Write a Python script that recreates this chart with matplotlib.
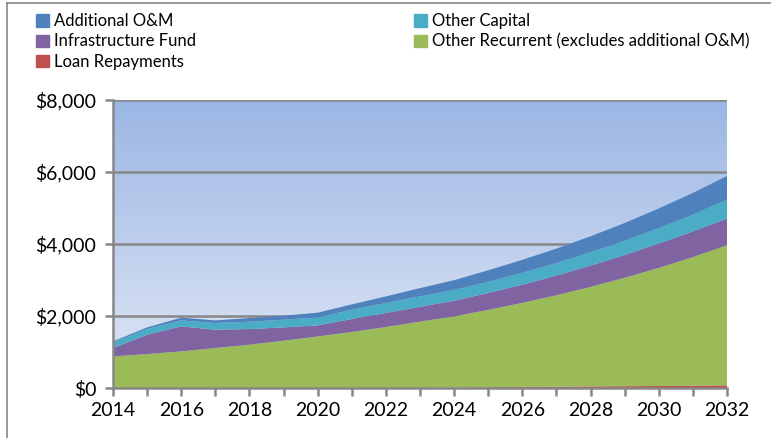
import numpy as np
import matplotlib
matplotlib.use("Agg")
import matplotlib.pyplot as plt
from matplotlib.lines import Line2D
from matplotlib.patches import Patch

years = list(range(2014, 2033))
loan_repayments = [0, 0, 0, 0, 0, 0, 0, 0, 0, 0, 10, 20, 30, 35, 45, 50, 55, 65, 75]
other_recurrent = [878, 944, 1017, 1110, 1203, 1314, 1433, 1555, 1694, 1845,
                   1980, 2150, 2335, 2542, 2764, 3012, 3283, 3573, 3890]
infrastructure_fund = [232, 536, 694, 510, 435, 369, 306, 362, 389, 410,
                       435, 470, 505, 545, 590, 630, 675, 710, 740]
other_capital = [157, 158, 167, 185, 204, 214, 222, 258, 278, 290,
                 300, 310, 330, 350, 375, 400, 430, 470, 525]
additional_om = [28, 45, 75, 73, 102, 111, 131, 147, 183, 230,
                 270, 320, 360, 400, 440, 490, 545, 600, 660]

y_ticks = [0, 2000, 4000, 6000, 8000]
y_labels = ['$0', '$2,000', '$4,000', '$6,000', '$8,000']
x_ticks = list(range(2014, 2033, 2))

c_om = '#4f81bd'
c_cap = '#4bacc6'
c_infra = '#8064a2'
c_rec = '#9bbb59'
c_loan = '#c0504d'

plt.rcParams['font.family'] = ['Lato', 'DejaVu Sans']

fig = plt.figure(figsize=(7.71, 4.38), dpi=100)
ax = fig.add_axes([113 / 771, 1 - 388 / 438, (727 - 113) / 771, (388 - 100) / 438])

# gradient background of the plot area
grad = np.linspace(0, 1, 256).reshape(-1, 1)
top = np.array(matplotlib.colors.to_rgb('#9bb6e4'))
bot = np.array(matplotlib.colors.to_rgb('#e2e8f5'))
img = top + (bot - top) * grad
ax.imshow(img.reshape(256, 1, 3), extent=[0, 1, 0, 1], transform=ax.transAxes,
          aspect='auto', zorder=0)

ax.stackplot(years, loan_repayments, other_recurrent, infrastructure_fund,
             other_capital, additional_om,
             colors=[c_loan, c_rec, c_infra, c_cap, c_om], linewidth=0, zorder=2)

ax.set_xlim(2014, 2032)
ax.set_ylim(0, 8000)
ax.set_yticks(y_ticks)
ax.set_yticklabels(y_labels)
ax.set_xticks(years, minor=True)
ax.set_xticks(x_ticks)
ax.set_xticklabels([str(x) for x in x_ticks])

for y in y_ticks[1:]:
    ax.axhline(y, color='#878787', lw=1.8, zorder=1)

for s in ['top', 'right']:
    ax.spines[s].set_visible(False)
for s in ['left', 'bottom']:
    ax.spines[s].set_color('#878787')
    ax.spines[s].set_linewidth(1.8)
    ax.spines[s].set_zorder(3)

ax.tick_params(axis='both', which='both', color='#878787', width=1.8, length=6,
               labelsize=14, labelcolor='black')
ax.tick_params(axis='x', pad=4)
ax.tick_params(axis='y', pad=6)

handles = [Patch(color=c_om), Patch(color=c_infra), Patch(color=c_loan),
           Patch(color=c_cap), Patch(color=c_rec)]
labels = ['Additional O&M', 'Infrastructure Fund', 'Loan Repayments',
          'Other Capital', 'Other Recurrent (excludes additional O&M)']
fig.legend(handles, labels, ncol=2, loc='upper left', bbox_to_anchor=(28 / 771, 1 - 5 / 438),
           frameon=False, fontsize=12, handlelength=0.75, handleheight=0.75,
           handletextpad=0.3, labelspacing=0.25, columnspacing=13.1, borderpad=0)

# outer chart border (top and left edges visible)
fig.add_artist(Line2D([7 / 771, 1], [1 - 3 / 438, 1 - 3 / 438], color='#878787', lw=1.2))
fig.add_artist(Line2D([7 / 771, 7 / 771], [0, 1 - 3 / 438], color='#878787', lw=1.2))

fig.savefig('out.png', dpi=100)
